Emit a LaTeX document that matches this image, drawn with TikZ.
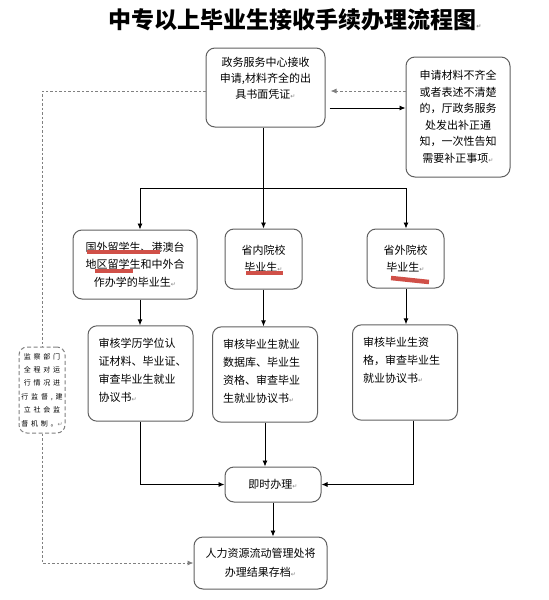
\documentclass[tikz,border=0pt]{standalone}
\usepackage{fontspec}
\setmainfont{Noto Sans CJK SC}
\newfontfamily\symfont{DejaVu Sans}
\newfontfamily\spacedfont[LetterSpace=40]{Noto Sans CJK SC}
\usetikzlibrary{arrows.meta}
\definecolor{edge}{RGB}{95,95,95}
\definecolor{hilite}{RGB}{208,80,72}
\newcommand{\parmark}{{\color{gray}\symfont\fontsize{6}{6}\selectfont ↵}}

\begin{document}
\begin{tikzpicture}[x=1pt,y=-1pt,
	box/.style={draw=edge,line width=1pt,rounded corners=9pt,align=center,inner sep=0pt,font=\fontsize{11}{17}\selectfont},
	tbox/.style={draw=edge,line width=1pt,rounded corners=9pt,align=left,text width=84pt,inner xsep=10.5pt,inner ysep=12pt,text depth=62pt,font=\fontsize{11}{18}\selectfont},
	watch/.style={draw=gray,dash pattern=on 4pt off 2.5pt,line width=1pt,rounded corners=8pt,align=center,inner sep=0pt,font=\spacedfont\fontsize{7}{13.4}\selectfont},
	flow/.style={-{Latex[length=6pt,width=5pt]},line width=0.9pt},
	note/.style={draw=gray,dash pattern=on 2.5pt off 2pt,line width=0.9pt},
	bar/.style={hilite,line width=4.5pt}]
	\useasboundingbox (0,0) rectangle (549,600);
	\path 	(295,20) 	node 	(h0) [font=\fontsize{23}{23}\selectfont\bfseries] {中专以上毕业生接收手续办理流程图\parmark}
	        (265.5,87.5) node (t0) [box,minimum width=119pt,minimum height=79pt,font=\fontsize{11}{16}\selectfont] {政务服务中心接收\\申请,材料齐全的出\\具书面凭证\parmark\\[3pt]}
	        (458,117) 	node 	(t1) [box,minimum width=104pt,minimum height=120pt,font=\fontsize{11}{16.5}\selectfont] {申请材料不齐全\\或者表述不清楚\\的，厅政务服务\\处发出补正通\\知，一次性告知\\需要补正事项\parmark}
	        (135,264.5) node 	(a1) [box,minimum width=124pt,minimum height=69pt,font=\fontsize{11}{17.5}\selectfont] {国外留学生、港澳台\\地区留学生和中外合\\作办学的毕业生\parmark}
	        (263.5,259) node 	(a2) [box,minimum width=77pt,minimum height=60pt] {省内院校\\毕业生\parmark}
	        (405.5,258.5) node 	(a3) [box,minimum width=77pt,minimum height=59pt] {省外院校\\毕业生\parmark}
	        (140.5,373.5) node 	(b1) [tbox] {审核学历学位认\\证材料、毕业证、\\审查毕业生就业\\协议书\parmark}
	        (265,374.5) node 	(b2) [tbox] {审核毕业生就业\\数据库、毕业生\\资格、审查毕业\\生就业协议书\parmark}
	        (405,372.5) node 	(b3) [tbox] {审核毕业生资\\格，审查毕业生\\就业协议书\parmark}
	        (273,484.5) node 	(c1) [box,minimum width=96pt,minimum height=35pt] {即时办理\parmark}
	        (260.5,563) node 	(c2) [box,minimum width=133pt,minimum height=52pt,font=\fontsize{11}{19}\selectfont] {人力资源流动管理处将\\办理结果存档\parmark}
	        (42,390) 	node 	(s0) [watch,minimum width=46pt,minimum height=86pt] {监察部门\\全程对运\\行情况进\\行监督,建\\立社会监\\督机制。\parmark};
	\coordinate (j1) at (140,188);
	\coordinate (j3) at (406,188);
	\coordinate (r0) at ([yshift=-3.5pt]t0.east);
	\coordinate (r1) at ([yshift=-20.5pt]t0.east);
	\coordinate (r2) at ([yshift=-3.5pt]t0.west);
	% top row
	\draw [flow,shorten <=4pt] (r1) -- (r1 -| t1.west);
	\draw [note,flow,shorten >=5pt] (r0 -| t1.west) -- (r0);
	\draw [note] (r2) -| (s0.north);
	\draw [note,flow] (s0.south) |- (c2.west);
	% split into three
	\draw [flow] (a2.north |- t0.south) -- (a2.north);
	\draw [line width=0.9pt] (j1) -- (j3);
	\draw [flow] (j1) -- (j1 |- a1.north);
	\draw [flow] (j3) -- (j3 |- a3.north);
	\draw [flow] (j1 |- a1.south) -- (j1 |- b1.north);
	\draw [flow] (a2.south) -- (a2.south |- b2.north);
	\draw [flow] (j3 |- a3.south) -- (j3 |- b3.north);
	% join
	\draw [flow] (b1.south) |- (c1.west);
	\draw [flow] (b2.south) -- (b2.south |- c1.north);
	\draw [flow] ([xshift=8pt]b3.south) |- (c1.east);
	\draw [flow] (c1.south) -- (c1.south |- c2.north);
	% red marks
	\draw [bar,line width=3.5pt] (87,252) -- (160,252);
	\draw [bar,line width=3.5pt] (95,271) -- (133,271);
	\draw [bar] (246,273) -- (283,273);
	\draw [bar] (391,278) -- (429,282);
\end{tikzpicture}
\end{document}
